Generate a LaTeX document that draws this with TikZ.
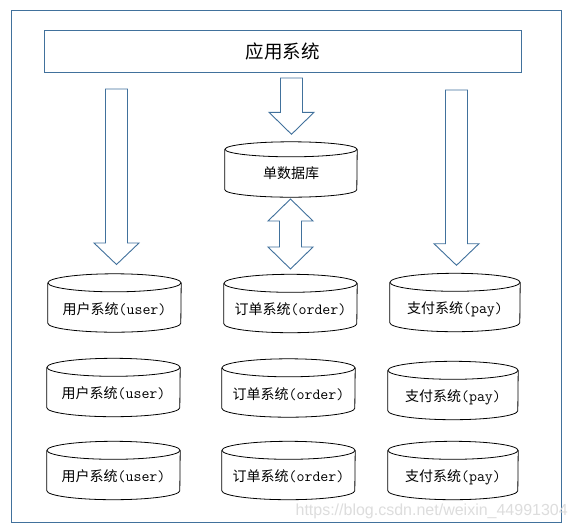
\documentclass[tikz,border=0pt]{standalone}
\usepackage{fontspec}
\newfontfamily\cjk{Noto Sans CJK SC}
\newfontfamily\wmfont{Liberation Sans}
\newcommand\monofnt{\ttfamily\fontsize{15.5}{16}\selectfont}
\definecolor{frameblue}{HTML}{41719C}
\definecolor{wmgray}{HTML}{DDDDDD}
\tikzset{
  blueline/.style={draw=frameblue, line width=0.9pt, line join=miter},
  blockarrow/.style={blueline, fill=white},
  cylline/.style={draw=black, line width=0.8pt},
  cylbox/.style={minimum width=#1, minimum height=58pt, inner sep=0pt,
    text height=26pt, text depth=4pt, font=\fontsize{14}{16}\selectfont},
  appbox/.style={blueline, minimum width=477pt, minimum height=42pt, inner sep=0pt,
    font=\cjk\fontsize{18.5}{20}\selectfont},
}
\newcommand\drawcyl[3]{% name, x radius, y radius (pt)
  \draw[cylline] ([yshift=-#3pt]#1.north west) -- ([yshift=#3pt]#1.south west)
    arc[start angle=180,end angle=360,x radius=#2pt,y radius=#3pt]
    -- ([yshift=-#3pt]#1.north east);
  \draw[cylline] ([yshift=-#3pt]#1.north) ellipse[x radius=#2pt,y radius=#3pt];
}
\newcommand\usertxt{{\cjk 用户系统}{\monofnt (user)}}
\newcommand\ordertxt{{\cjk 订单系统}{\monofnt (order)}}
\newcommand\paytxt{{\cjk 支付系统}{\monofnt (pay)}}
\begin{document}
\begin{tikzpicture}[x=1pt,y=-1pt]
\useasboundingbox (0,0) rectangle (578,528);
\fill[white] (0,0) rectangle (578,528);
% outer frame
\draw[blueline] (11,10) rectangle (561,522);
% watermark
\node[anchor=base east, inner sep=0pt, text=wmgray, font=\wmfont\fontsize{16}{18}\selectfont] (wm) at (568,515) {https://blog.csdn.net/weixin\_44991304};
% application box
\node[appbox] (app) at (282.5,51) {应用系统};
% single database
\node[cylbox=132pt, minimum height=55pt, text height=21.6pt, text depth=4pt] (db) at (291,169.5) {\cjk 单数据库};
\drawcyl{db}{66}{7.5}
% cylinders
\node[cylbox=133pt] (u1) at (114.5,303) {\usertxt};
\node[cylbox=133pt] (u2) at (113.5,387.5) {\usertxt};
\node[cylbox=133pt] (u3) at (113.5,470.5) {\usertxt};
\node[cylbox=133pt] (o1) at (290.5,303.5) {\ordertxt};
\node[cylbox=133pt] (o2) at (288.5,388) {\ordertxt};
\node[cylbox=133pt] (o3) at (288.5,470.5) {\ordertxt};
\node[cylbox=130pt] (p1) at (455,302.5) {\paytxt};
\node[cylbox=130pt] (p2) at (453,390.5) {\paytxt};
\node[cylbox=130pt] (p3) at (453,470.5) {\paytxt};
\foreach \n in {u1,u2,u3,o1,o2,o3} {\drawcyl{\n}{66.5}{9}}
\foreach \n in {p1,p2,p3} {\drawcyl{\n}{65}{9}}
% block arrows
\draw[blockarrow] (105.5,89) -- (105.5,243) -- (94,243) -- (116.5,264.5) -- (139,243) -- (127.5,243) -- (127.5,89) -- cycle;
\draw[blockarrow] (280.5,78) -- (280.5,112.3) -- (269,112.3) -- (291.5,134.3) -- (314,112.3) -- (302.5,112.3) -- (302.5,78) -- cycle;
\draw[blockarrow] (445.5,90) -- (445.5,243.7) -- (434,243.7) -- (456.5,265.3) -- (479,243.7) -- (467.5,243.7) -- (467.5,90) -- cycle;
\draw[blockarrow] (290.5,199) -- (313,221) -- (301.5,221) -- (301.5,247) -- (313,247) -- (290.5,269) -- (268,247) -- (279.5,247) -- (279.5,221) -- (268,221) -- cycle;
\end{tikzpicture}
\end{document}
